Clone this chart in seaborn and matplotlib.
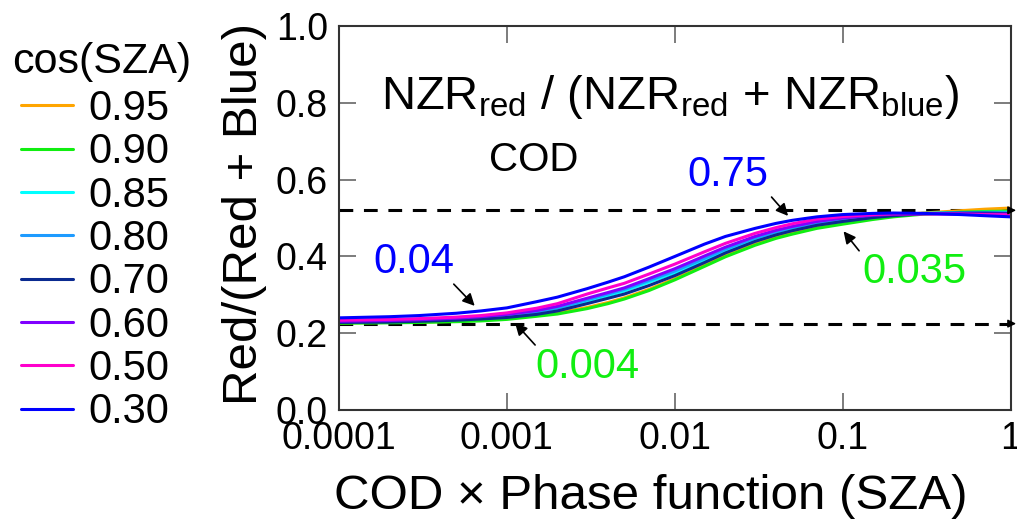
import numpy as np
import pandas as pd
import seaborn as sns
from matplotlib import pyplot as plt
from matplotlib.ticker import NullLocator

x_vals = [1e-4, 2e-4, 3e-4, 5e-4, 7e-4, 1e-3, 1.5e-3, 2e-3, 3e-3, 4e-3, 5e-3, 7e-3, 1e-2,
          1.5e-2, 2e-2, 3e-2, 4e-2, 5e-2, 7e-2, 0.1, 0.15, 0.2, 0.3, 0.5, 0.7, 1.0]

cos_sza = ['0.95', '0.90', '0.85', '0.80', '0.70', '0.60', '0.50', '0.30']
v095 = [0.227, 0.228, 0.229, 0.231, 0.234, 0.238, 0.246, 0.253, 0.267, 0.280, 0.292, 0.314, 0.342,
        0.377, 0.402, 0.432, 0.450, 0.461, 0.476, 0.487, 0.499, 0.506, 0.513, 0.519, 0.523, 0.526]
v090 = [0.226, 0.227, 0.228, 0.230, 0.232, 0.236, 0.244, 0.250, 0.264, 0.277, 0.289, 0.311, 0.339,
        0.374, 0.399, 0.429, 0.447, 0.458, 0.473, 0.484, 0.496, 0.503, 0.510, 0.515, 0.517, 0.518]
v085 = [0.229, 0.231, 0.233, 0.236, 0.239, 0.244, 0.253, 0.263, 0.284, 0.298, 0.310, 0.333, 0.357,
        0.390, 0.415, 0.444, 0.461, 0.472, 0.486, 0.495, 0.504, 0.508, 0.512, 0.514, 0.515, 0.515]
v080 = [0.230, 0.232, 0.234, 0.237, 0.241, 0.246, 0.256, 0.266, 0.287, 0.302, 0.314, 0.337, 0.362,
        0.395, 0.419, 0.448, 0.464, 0.475, 0.488, 0.497, 0.505, 0.509, 0.512, 0.513, 0.513, 0.513]
v070 = [0.228, 0.229, 0.231, 0.234, 0.237, 0.241, 0.249, 0.258, 0.277, 0.291, 0.302, 0.324, 0.350,
        0.384, 0.409, 0.439, 0.456, 0.467, 0.481, 0.491, 0.501, 0.506, 0.511, 0.513, 0.513, 0.512]
v060 = [0.231, 0.233, 0.235, 0.239, 0.243, 0.249, 0.259, 0.270, 0.291, 0.306, 0.318, 0.342, 0.368,
        0.401, 0.424, 0.452, 0.468, 0.478, 0.491, 0.500, 0.507, 0.510, 0.511, 0.511, 0.510, 0.510]
v050 = [0.234, 0.236, 0.238, 0.242, 0.246, 0.253, 0.265, 0.277, 0.302, 0.318, 0.330, 0.354, 0.380,
        0.412, 0.434, 0.460, 0.475, 0.485, 0.497, 0.504, 0.509, 0.511, 0.511, 0.510, 0.509, 0.508]
v030 = [0.240, 0.243, 0.246, 0.252, 0.258, 0.266, 0.282, 0.294, 0.316, 0.333, 0.347, 0.372, 0.400,
        0.432, 0.452, 0.473, 0.486, 0.494, 0.503, 0.509, 0.512, 0.513, 0.512, 0.509, 0.506, 0.503]
series = [v095, v090, v085, v080, v070, v060, v050, v030]

ref_levels = [0.225, 0.52]

colors = ['#FFA500', '#11EE11', '#00FFFF', '#1E9BFF', '#0A2A90', '#8000FF', '#FF00CC', '#0000FF']

df = pd.concat([pd.DataFrame({'x': x_vals, 'y': v, 'cos(SZA)': c}) for c, v in zip(cos_sza, series)])

sns.set_theme(style='ticks')
plt.rcParams['font.family'] = ['Liberation Sans', 'DejaVu Sans']
plt.rcParams['mathtext.default'] = 'regular'
for k in ['text.color', 'axes.labelcolor', 'xtick.labelcolor', 'ytick.labelcolor']:
    plt.rcParams[k] = 'black'

fig = plt.figure(figsize=(10.17, 5.2), dpi=100)
ax = fig.add_axes([0.3333, 0.2115, 0.6606, 0.7385])

sns.lineplot(data=df, x='x', y='y', hue='cos(SZA)', hue_order=cos_sza,
             palette=dict(zip(cos_sza, colors)), linewidth=2.2, ax=ax)

for lv in ref_levels:
    ax.axhline(lv, color='black', lw=2.2, ls=(0, (4.5, 3.5)), zorder=1)
    ax.annotate('', xy=(1.012, lv), xycoords=('axes fraction', 'data'), xytext=(0.995, lv),
                arrowprops=dict(arrowstyle='-|>', color='black', lw=1, mutation_scale=12),
                annotation_clip=False)

ax.set_xscale('log')
ax.set_xlim(1e-4, 1)
ax.set_ylim(0, 1)
ax.set_xticks([1e-4, 1e-3, 1e-2, 1e-1, 1])
ax.set_xticklabels(['0.0001', '0.001', '0.01', '0.1', '1'])
ax.xaxis.set_minor_locator(NullLocator())
ax.set_yticks([0, 0.2, 0.4, 0.6, 0.8, 1.0])
ax.set_yticklabels(['0.0', '0.2', '0.4', '0.6', '0.8', '1.0'])
ax.tick_params(direction='in', length=12, width=1.2, color='#666666',
               top=True, right=True, labelsize=27, pad=8)
for s in ax.spines.values():
    s.set_linewidth(1.5)
    s.set_color('#333333')

ax.set_xlabel('COD \u00d7 Phase function (SZA)', fontsize=35.5, labelpad=12)
ax.xaxis.label.set_x(0.464)
ax.set_ylabel('Red/(Red + Blue)', fontsize=35.5, labelpad=6)
ax.yaxis.label.set_y(0.51)

ax.text(0.4926, 0.815, r'NZR$_{red}$ / (NZR$_{red}$ + NZR$_{blue}$)', transform=ax.transAxes,
        ha='center', va='center', fontsize=34)
ax.text(1.45e-3, 0.651, 'COD', ha='center', va='center', fontsize=29)

ap = dict(arrowstyle='-|>', color='black', lw=1.2, mutation_scale=18)
ax.annotate('', xy=(0.0484, 0.50), xytext=(0.0367, 0.56), arrowprops=ap)
ax.annotate('', xy=(0.0986, 0.471), xytext=(0.128, 0.409), arrowprops=ap)
ax.annotate('', xy=(6.6e-4, 0.266), xytext=(4.7e-4, 0.333), arrowprops=ap)
ax.annotate('', xy=(1.09e-3, 0.232), xytext=(1.51e-3, 0.164), arrowprops=ap)
ax.text(0.0207, 0.612, '0.75', color='#0000FF', ha='center', va='center', fontsize=30)
ax.text(2.8e-4, 0.385, '0.04', color='#0000FF', ha='center', va='center', fontsize=30)
ax.text(0.268, 0.359, '0.035', color='#11EE11', ha='center', va='center', fontsize=30)
ax.text(3.0e-3, 0.112, '0.004', color='#11EE11', ha='center', va='center', fontsize=30)

sns.move_legend(ax, 'upper left', bbox_to_anchor=(0.0206, 0.829), bbox_transform=fig.transFigure,
                frameon=False, fontsize=30, title=None,
                handlelength=1.25, handletextpad=0.38, labelspacing=0.08,
                borderaxespad=0, borderpad=0)
fig.text(12 / 1017, 1 - 62 / 520, 'cos(SZA)', ha='left', va='center', fontsize=31)

fig.savefig('out.png', dpi=100)
